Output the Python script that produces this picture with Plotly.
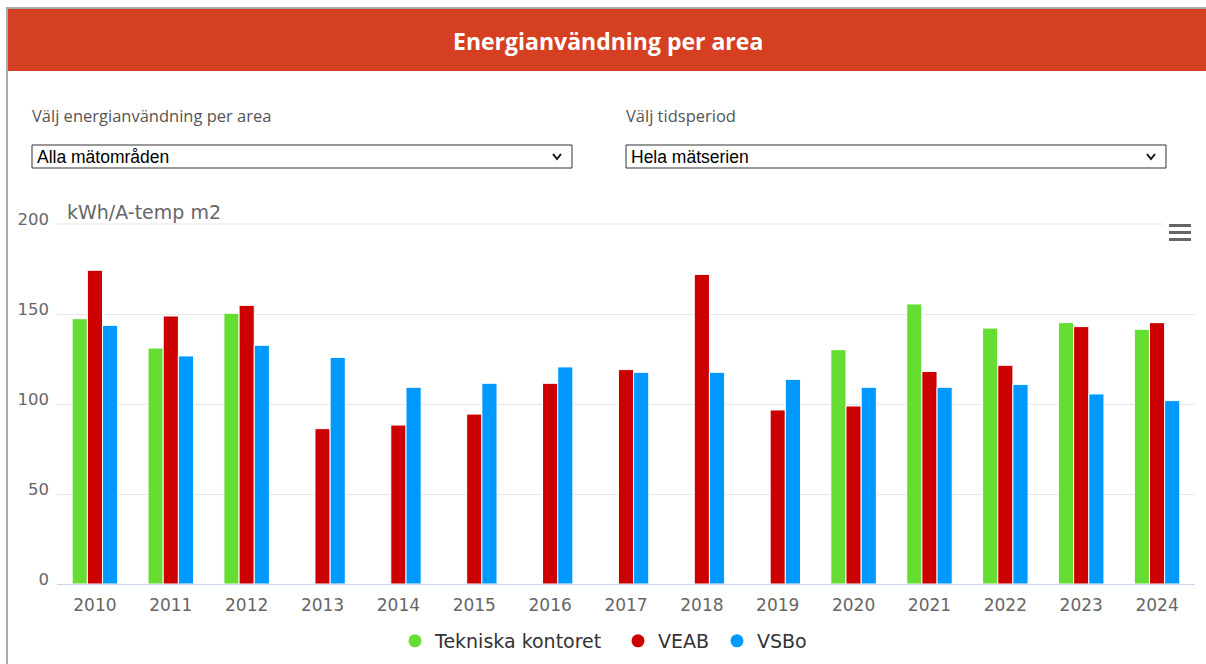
import plotly.graph_objects as go

years = ["2010", "2011", "2012", "2013", "2014", "2015", "2016", "2017",
         "2018", "2019", "2020", "2021", "2022", "2023", "2024"]
tekniska = [147.4, 131.1, 150.4, None, None, None, None, None,
            None, None, 130.2, 155.6, 142.2, 145.2, 141.5]
veab = [174.3, 148.9, 154.8, 86.3, 88.3, 94.4, 111.5, 119.1,
        172.0, 96.7, 98.9, 118.1, 121.5, 143.0, 145.2]
vsbo = [143.7, 126.7, 132.6, 125.9, 109.3, 111.5, 120.6, 117.6,
        117.6, 113.7, 109.3, 109.3, 110.9, 105.6, 101.9]
series_names = ["Tekniska kontoret", "VEAB", "VSBo"]
series_colors = ["#66DD33", "#CC0000", "#0099FF"]
y_ticks = [0, 50, 100, 150, 200]

W, H = 1206, 664
L, R, T, B = 57, 1195, 224, 584  # plot area in pixels


def px(x):
    return (x - L) / (R - L)


def py(y):
    return (B - y) / (B - T)


fig = go.Figure()
for name, vals, col in zip(series_names, [tekniska, veab, vsbo], series_colors):
    fig.add_trace(go.Bar(
        x=years, y=vals, name=name, marker=dict(color=col, line=dict(color="white", width=1)),
        showlegend=False, legendgroup=name,
    ))
legend_ids = ["legend", "legend2", "legend3"]
for name, col, lid in zip(series_names, series_colors, legend_ids):
    fig.add_trace(go.Scatter(
        x=[None], y=[None], mode="markers", name=name, legendgroup=name, legend=lid,
        marker=dict(symbol="circle", size=13, color=col),
    ))

shapes = []
# page border
shapes.append(dict(type="line", xref="paper", yref="paper", x0=px(7), x1=px(7), y0=py(7), y1=py(664),
                   line=dict(color="#aaaaaa", width=2)))
shapes.append(dict(type="line", xref="paper", yref="paper", x0=px(7), x1=px(1206), y0=py(8), y1=py(8),
                   line=dict(color="#aaaaaa", width=2)))
# red header
shapes.append(dict(type="rect", xref="paper", yref="paper", x0=px(8), x1=px(1206), y0=py(71), y1=py(9),
                   fillcolor="#D64022", line=dict(width=0)))
# select boxes
for x0, x1 in [(32, 572), (626, 1166)]:
    shapes.append(dict(type="rect", xref="paper", yref="paper", x0=px(x0), x1=px(x1), y0=py(168), y1=py(145),
                       fillcolor="white", line=dict(color="#333333", width=1)))
    cx = x1 - 15
    shapes.append(dict(type="path", xref="paper", yref="paper",
                       path=f"M {px(cx-4)},{py(154)} L {px(cx)},{py(159)} L {px(cx+4)},{py(154)}",
                       line=dict(color="#111111", width=2)))
# top gridline (stops before the menu icon)
shapes.append(dict(type="line", xref="paper", yref="paper", x0=px(57), x1=px(1163), y0=1, y1=1,
                   line=dict(color="#e6e6e6", width=1), layer="below"))
# hamburger icon
for yy in [225.5, 232.5, 239.5]:
    shapes.append(dict(type="line", xref="paper", yref="paper", x0=px(1169), x1=px(1191), y0=py(yy), y1=py(yy),
                       line=dict(color="#666666", width=3)))

annotations = [
    dict(text="<b>Energianvändning per area</b>", x=px(608), y=py(41), xref="paper", yref="paper",
         showarrow=False, xanchor="center", yanchor="middle",
         font=dict(family="Open Sans", size=23, color="white")),
    dict(text="Välj energianvändning per area", x=px(30), y=py(116), xref="paper", yref="paper",
         showarrow=False, xanchor="left", yanchor="middle",
         font=dict(family="Open Sans", size=16.5, color="#555555")),
    dict(text="Välj tidsperiod", x=px(624), y=py(116), xref="paper", yref="paper",
         showarrow=False, xanchor="left", yanchor="middle",
         font=dict(family="Open Sans", size=16.5, color="#555555")),
    dict(text="Alla mätområden", x=px(35), y=py(157), xref="paper", yref="paper",
         showarrow=False, xanchor="left", yanchor="middle",
         font=dict(family="Liberation Sans, Arial", size=17.5, color="#000000")),
    dict(text="Hela mätserien", x=px(629), y=py(157), xref="paper", yref="paper",
         showarrow=False, xanchor="left", yanchor="middle",
         font=dict(family="Liberation Sans, Arial", size=17.5, color="#000000")),
    dict(text="kWh/A-temp m2", x=px(65), y=py(212), xref="paper", yref="paper",
         showarrow=False, xanchor="left", yanchor="middle",
         font=dict(family="DejaVu Sans", size=19, color="#666666")),
]

legend_common = dict(orientation="h", xanchor="left", yanchor="middle",
                     font=dict(family="DejaVu Sans", size=19, color="#333333"),
                     bgcolor="rgba(0,0,0,0)", borderwidth=0)
circle_x = [415, 638, 737]

fig.update_layout(
    width=W, height=H,
    margin=dict(l=L, r=W - R, t=T, b=H - B, pad=0, autoexpand=False),
    paper_bgcolor="white", plot_bgcolor="white",
    barmode="group", bargap=0.4, bargroupgap=0.0,
    font=dict(family="DejaVu Sans", size=16, color="#666666"),
    xaxis=dict(type="category", categoryorder="array", categoryarray=years,
               showline=True, linecolor="#ccd6eb", linewidth=1, showgrid=False,
               ticks="", tickfont=dict(size=17, color="#666666"), ticklabelstandoff=6,
               automargin=False),
    yaxis=dict(range=[0, 200], tickvals=y_ticks, showgrid=True, gridcolor="#e6e6e6", gridwidth=1,
               zeroline=False, showline=False, ticks="", tickfont=dict(size=16.5, color="#666666"),
               ticklabelstandoff=7, ticklabelshift=-5, automargin=False),
    legend=dict(x=px(circle_x[0] - 20), y=py(641), **legend_common),
    legend2=dict(x=px(circle_x[1] - 20), y=py(641), **legend_common),
    legend3=dict(x=px(circle_x[2] - 20), y=py(641), **legend_common),
    shapes=shapes, annotations=annotations,
)

fig.write_html("out.html", config={"displayModeBar": False},
               post_script="document.body.style.margin='0';")
